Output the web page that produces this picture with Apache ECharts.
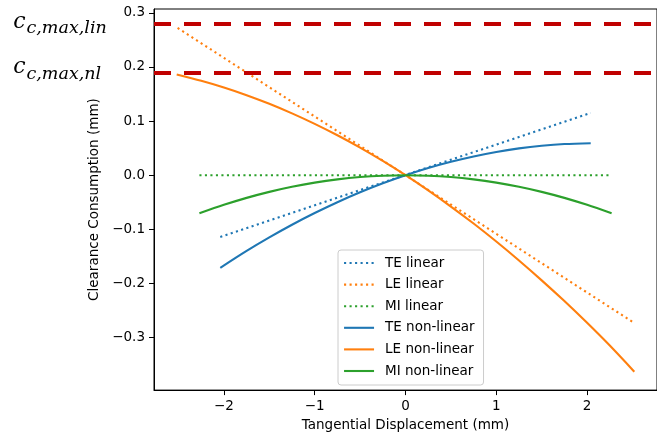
<!DOCTYPE html>
<html>
<head>
<meta charset="utf-8">
<script src="https://cdn.jsdelivr.net/npm/echarts@6/dist/echarts.min.js"></script>
<style>
html,body{margin:0;padding:0;background:#fff;}
#chart{width:657px;height:437px;}
</style>
</head>
<body>
<div id="chart"></div>
<script>
// ---- data ----
const xTicks = [-2, -1, 0, 1, 2];
const yTicks = [-0.3, -0.2, -0.1, 0.0, 0.1, 0.2, 0.3];

const teLinX = [-2.04, 2.04];
const teLinY = [-0.114, 0.115];
const leLinX = [-2.51, 2.51];
const leLinY = [0.272, -0.272];
const miLinX = [-2.27, 2.27];
const miLinY = [0, 0];

const teNlX = [-2.04, -1.75, -1.5, -1.25, -1, -0.75, -0.5, -0.25, 0, 0.25, 0.5, 0.75, 1, 1.25, 1.5, 1.75, 2.04];
const teNlY = [-0.1711, -0.1399, -0.1149, -0.0915, -0.0699, -0.0499, -0.0316, -0.0149, 0, 0.0133, 0.0248, 0.0347, 0.0430, 0.0495, 0.0543, 0.0575, 0.0591];

const leNlX = [-2.52, -2.25, -2, -1.75, -1.5, -1.25, -1, -0.75, -0.5, -0.25, 0, 0.25, 0.5, 0.75, 1, 1.25, 1.5, 1.75, 2, 2.25, 2.52];
const leNlY = [0.186, 0.1744, 0.162, 0.1478, 0.1319, 0.1142, 0.0948, 0.0737, 0.0509, 0.0263, 0, -0.0281, -0.0579, -0.0893, -0.1226, -0.1576, -0.1943, -0.2326, -0.2728, -0.3148, -0.363];

const miNlX = [-2.27, -2, -1.75, -1.5, -1.25, -1, -0.75, -0.5, -0.25, 0, 0.25, 0.5, 0.75, 1, 1.25, 1.5, 1.75, 2, 2.27];
const miNlY = [-0.0705, -0.0548, -0.0419, -0.0308, -0.0214, -0.0137, -0.0077, -0.0034, -0.0009, 0, -0.0009, -0.0034, -0.0077, -0.0137, -0.0214, -0.0308, -0.0419, -0.0548, -0.0705];

const limitValues = [0.275, 0.188];
const limitSubs = ['c,max,lin', 'c,max,nl'];

const seriesNames = ['TE linear', 'LE linear', 'MI linear', 'TE non-linear', 'LE non-linear', 'MI non-linear'];
const colors = ['#1f77b4', '#ff7f0e', '#2ca02c'];

// ---- build ----
function pts(xs, ys) { return xs.map((x, i) => [x, ys[i]]); }
const minus = s => s.replace('-', '\u2212');
const FONT = 'DejaVu Sans';
const DOT = [2.1, 3.4];

function lineSeries(name, data, color, dotted) {
  return {
    name, type: 'line', data, showSymbol: false, symbol: 'none',
    smooth: dotted ? false : 0.3, silent: true,
    lineStyle: { color, width: 2.1, type: dotted ? DOT : 'solid', cap: 'butt' },
    itemStyle: { color },
    z: 3
  };
}

const series = [
  lineSeries(seriesNames[0], pts(teLinX, teLinY), colors[0], true),
  lineSeries(seriesNames[1], pts(leLinX, leLinY), colors[1], true),
  lineSeries(seriesNames[2], pts(miLinX, miLinY), colors[2], true),
  lineSeries(seriesNames[3], pts(teNlX, teNlY), colors[0], false),
  lineSeries(seriesNames[4], pts(leNlX, leNlY), colors[1], false),
  lineSeries(seriesNames[5], pts(miNlX, miNlY), colors[2], false)
];
series[0].markLine = {
  silent: true, symbol: ['none', 'none'], animation: false,
  label: { show: false },
  lineStyle: { color: '#c00000', width: 4, type: [17, 13], cap: 'butt' },
  data: limitValues.map(v => ({ yAxis: v }))
};

const chart = echarts.init(document.getElementById('chart'), null, { renderer: 'canvas' });

const graphics = [];
limitValues.forEach((v, i) => {
  const cBase = i === 0 ? 30 : 75;
  const sBase = i === 0 ? 34 : 80;
  graphics.push({
    type: 'text', x: 25.5, y: cBase - 7.6, silent: true,
    style: { text: 'c', fill: '#000', font: 'italic 22px "DejaVu Serif"', align: 'right', verticalAlign: 'middle' }
  });
  graphics.push({
    type: 'text', x: 26.5, y: sBase - 5.9, silent: true,
    style: { text: limitSubs[i], fill: '#000', font: 'italic 17.5px "DejaVu Serif"', align: 'left', verticalAlign: 'middle' }
  });
});

chart.setOption({
  animation: false,
  backgroundColor: '#fff',
  grid: { left: 154, top: 9, right: -11, bottom: 45, show: true, borderColor: '#000', borderWidth: 1, backgroundColor: 'transparent' },
  xAxis: {
    type: 'value', min: -2.77, max: 2.77,
    name: 'Tangential Displacement (mm)', nameLocation: 'middle', nameGap: 27,
    nameTextStyle: { fontFamily: FONT, fontSize: 13.5, color: '#000' },
    axisLine: { show: true, onZero: false, lineStyle: { color: '#000', width: 1 } },
    axisTick: { show: true, length: 5, inside: false, customValues: xTicks, lineStyle: { color: '#000' } },
    axisLabel: { customValues: xTicks, margin: 9, fontFamily: FONT, fontSize: 13.5, color: '#000', formatter: v => minus(String(v)) },
    splitLine: { show: false }
  },
  yAxis: {
    type: 'value', min: -0.397, max: 0.307,
    name: 'Clearance Consumption (mm)', nameLocation: 'middle', nameGap: 52, nameRotate: 90,
    nameTextStyle: { fontFamily: FONT, fontSize: 13.5, color: '#000' },
    axisLine: { show: true, onZero: false, lineStyle: { color: '#000', width: 1 } },
    axisTick: { show: true, length: 5, inside: false, customValues: yTicks, lineStyle: { color: '#000' } },
    axisLabel: { customValues: yTicks, margin: 9, fontFamily: FONT, fontSize: 13.5, color: '#000', formatter: v => minus(Number(v).toFixed(1)) },
    splitLine: { show: false }
  },
  legend: {
    orient: 'vertical', left: 338, top: 250,
    data: seriesNames.map(n => ({ name: n, itemStyle: { opacity: 0 } })),
    itemWidth: 30, itemHeight: 14, itemGap: 7.6,
    padding: [6, 9, 7, 5],
    backgroundColor: 'rgba(255,255,255,0.8)', borderColor: '#cccccc', borderWidth: 1, borderRadius: 3,
    itemStyle: { opacity: 0 },
    lineStyle: { width: 2.1 },
    textStyle: { fontFamily: FONT, fontSize: 13.5, color: '#000', padding: [0, 0, 0, 6] },
    selectedMode: false
  },
  graphic: graphics,
  series
});
</script>
</body>
</html>
